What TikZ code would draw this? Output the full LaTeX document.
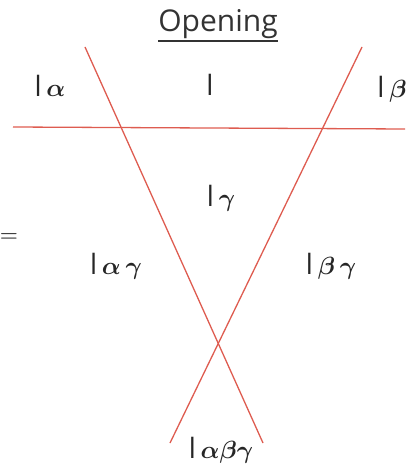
\documentclass[tikz,border=0pt]{standalone}
\usepackage{fontspec}
\setsansfont{Open Sans}
\usepackage{amsmath}
\usepackage{xcolor}
\usepackage{tikz}
\definecolor{cutred}{RGB}{222,92,80}
\newcommand{\lsym}{\textsf{l}}

\begin{document}
\begin{tikzpicture}[
        x=1pt, y=-1pt,
        cut/.style={draw=cutred, line width=1.3pt},
        region/.style={font=\fontsize{28}{32}\selectfont\boldmath, text=black!85, inner sep=0pt},
        heading/.style={font=\sffamily\fontsize{30}{34}\selectfont, text=black!80, inner sep=0pt, anchor=base}
    ]
        \useasboundingbox (0,0) rectangle (414,470);

        % heading
        \node[heading] (open) at (218,32) {Opening};
        \draw[black!80, line width=1.6pt] ([yshift=-9pt]open.base west) -- ([yshift=-9pt]open.base east);

        % cutting lines
        \coordinate (hl) at (13,127);
        \coordinate (hr) at (405,129);
        \coordinate (atop) at (85,47);
        \coordinate (abot) at (263,443);
        \coordinate (btop) at (362,47);
        \coordinate (bbot) at (170,443);
        \draw[cut] (hl) -- (hr);
        \draw[cut] (atop) -- (abot);
        \draw[cut] (btop) -- (bbot);

        % regions
        \node[region] (ra) at (50,86) {\lsym$\,\alpha$};
        \node[region] (r0) at (210,85) {\lsym};
        \node[region] (rb) at (392,89) {\lsym$\,\beta$};
        \node[region] (rg) at (221,198) {\lsym$\,\gamma$};
        \node[region] (rag) at (116,266) {\lsym$\,\alpha\,\gamma$};
        \node[region] (rbg) at (331,266) {\lsym$\,\beta\,\gamma$};
        \node[region] (rabg) at (221,450) {\lsym$\,\alpha\beta\gamma$};

        % mark at the left edge
        \node[text=black!75, font=\fontsize{22}{24}\selectfont\boldmath, inner sep=0pt] (mark) at (9,237) {$=$};
    \end{tikzpicture}
\end{document}
